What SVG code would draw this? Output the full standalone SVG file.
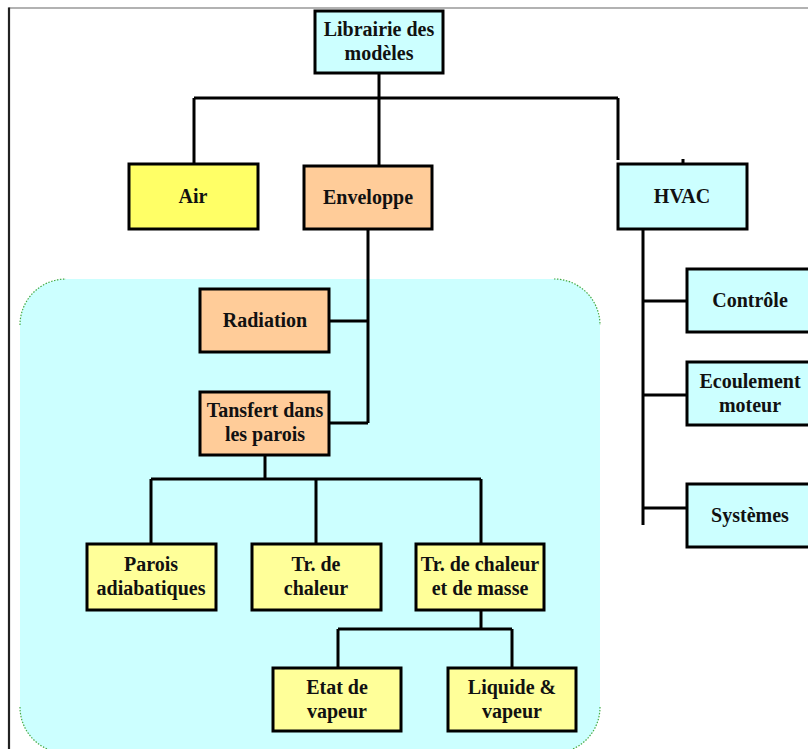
<svg xmlns="http://www.w3.org/2000/svg" width="808" height="749" viewBox="0 0 808 749">
<style>
.box{stroke:#000;stroke-width:3}
.cy{fill:#ccffff}
.ye{fill:#ffff99}
.yb{fill:#ffff66}
.or{fill:#ffcc99}
.t{font-family:"Liberation Serif","Times New Roman",serif;font-weight:bold;font-size:20px;fill:#111;text-anchor:middle}
.c{fill:none;stroke:#000;stroke-width:3}
.g{fill:none;stroke:#44aa44;stroke-width:1.2;stroke-dasharray:1.5 1.5}
</style>
<rect x="0" y="0" width="808" height="749" fill="#fff"/>
<line x1="8.5" y1="8" x2="808" y2="8" stroke="#666" stroke-width="1.2"/>
<line x1="9" y1="7.5" x2="9" y2="749" stroke="#222" stroke-width="2.2"/>
<g id="zone">
<rect x="20" y="279" width="580" height="474" rx="46" ry="46" fill="#ccffff"/>
<path class="g" d="M20 325 A46 46 0 0 1 66 279"/>
<path class="g" d="M554 279 A46 46 0 0 1 600 325"/>
<path class="g" d="M20 707 A46 46 0 0 0 66 753"/>
<path class="g" d="M600 707 A46 46 0 0 1 554 753"/>
</g>
<g id="connectors">
<path class="c" d="M379 73 V98 M194 98 H618 M194 98 V164 M379 98 V166 M618 98 V160 M683 159 V164"/>
<path class="c" d="M368 229 V423 M330 321 H368 M330 423 H368"/>
<path class="c" d="M265 455 V479 M151 479 H481 M151 479 V544 M316 479 V544 M481 479 V544"/>
<path class="c" d="M481 610 V629 M338 629 H512 M338 629 V668 M512 629 V668"/>
<path class="c" d="M643 229 V525 M643 301 H687 M643 395 H687 M643 508 H687"/>
</g>
<g id="librairie">
<rect class="box cy" x="315" y="11" width="128" height="62"/>
<text class="t" x="379" y="36">Librairie des</text>
<text class="t" x="379" y="60">modèles</text>
</g>
<g id="air">
<rect class="box yb" x="129" y="164" width="129" height="65"/>
<text class="t" x="193" y="203">Air</text>
</g>
<g id="enveloppe">
<rect class="box or" x="304" y="166" width="128" height="63"/>
<text class="t" x="368" y="204">Enveloppe</text>
</g>
<g id="hvac">
<rect class="box cy" x="618" y="164" width="129" height="65"/>
<text class="t" x="682" y="203">HVAC</text>
</g>
<g id="radiation">
<rect class="box or" x="200" y="289" width="129" height="63"/>
<text class="t" x="265" y="327">Radiation</text>
</g>
<g id="transfert">
<rect class="box or" x="200" y="392" width="129" height="63"/>
<text class="t" x="265" y="417">Tansfert dans</text>
<text class="t" x="265" y="441">les parois</text>
</g>
<g id="parois">
<rect class="box ye" x="87" y="544" width="129" height="66"/>
<text class="t" x="151" y="571">Parois</text>
<text class="t" x="151" y="595">adiabatiques</text>
</g>
<g id="trchaleur">
<rect class="box ye" x="252" y="544" width="129" height="66"/>
<text class="t" x="316" y="571">Tr. de</text>
<text class="t" x="316" y="595">chaleur</text>
</g>
<g id="trmasse">
<rect class="box ye" x="416" y="544" width="128" height="66"/>
<text class="t" x="480" y="571">Tr. de chaleur</text>
<text class="t" x="480" y="595">et de masse</text>
</g>
<g id="etat">
<rect class="box ye" x="273" y="668" width="128" height="63"/>
<text class="t" x="337" y="694">Etat de</text>
<text class="t" x="337" y="718">vapeur</text>
</g>
<g id="liquide">
<rect class="box ye" x="448" y="668" width="128" height="63"/>
<text class="t" x="512" y="694">Liquide &amp;</text>
<text class="t" x="512" y="718">vapeur</text>
</g>
<g id="controle">
<rect class="box cy" x="687" y="269" width="130" height="63"/>
<text class="t" x="750" y="307">Contrôle</text>
</g>
<g id="ecoulement">
<rect class="box cy" x="687" y="362" width="130" height="63"/>
<text class="t" x="750" y="388">Ecoulement</text>
<text class="t" x="750" y="412">moteur</text>
</g>
<g id="systemes">
<rect class="box cy" x="687" y="484" width="130" height="63"/>
<text class="t" x="750" y="522">Systèmes</text>
</g>
</svg>
